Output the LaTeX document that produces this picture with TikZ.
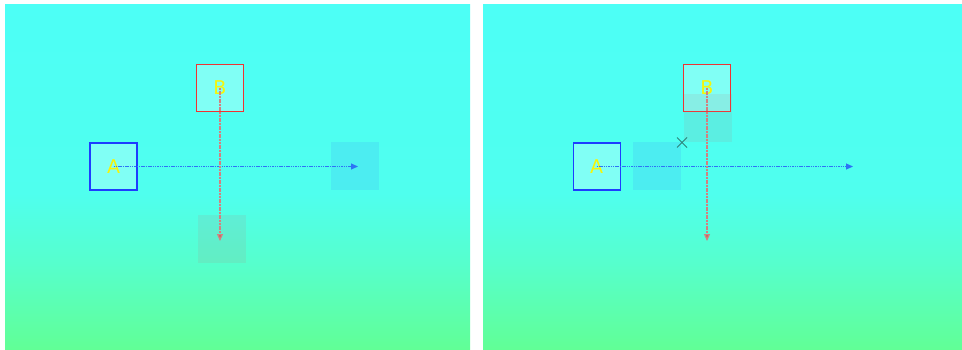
\documentclass[tikz,border=0pt]{standalone}
\usepackage{fontspec}
\setmainfont{DejaVu Sans}
\usetikzlibrary{arrows.meta}
\definecolor{bgtop}{RGB}{77,255,246}
\definecolor{bgmid}{RGB}{79,255,238}
\definecolor{bgq}{RGB}{86,255,205}
\definecolor{bgbot}{RGB}{97,255,150}
\definecolor{boxblue}{RGB}{30,60,255}
\definecolor{boxred}{RGB}{240,50,50}
\definecolor{boxfill}{RGB}{128,255,245}
\definecolor{labyellow}{RGB}{245,245,10}
\definecolor{arrblue}{RGB}{45,115,245}
\definecolor{arrred}{RGB}{212,128,128}
\definecolor{arrredtip}{RGB}{190,110,95}
\definecolor{ghostblue}{RGB}{60,120,255}
\definecolor{ghostred}{RGB}{190,120,120}
\definecolor{crossc}{RGB}{45,130,120}
\pgfdeclareverticalshading{bgshade}{100bp}{color(0bp)=(bgbot); color(25bp)=(bgbot);
  color(37.5bp)=(bgq); color(47.5bp)=(bgmid); color(75bp)=(bgtop); color(100bp)=(bgtop)}
\tikzset{
  panel/.style={shading=bgshade},
  box/.style={draw, line width=1.2pt, fill=boxfill, minimum size=47pt, inner sep=0pt,
    text=labyellow, font=\fontsize{19}{19}\selectfont},
  boxa/.style={box, draw=boxblue},
  boxb/.style={box, draw=boxred},
  ghosta/.style={fill=ghostblue, fill opacity=0.13, minimum size=48pt, inner sep=0pt},
  ghostb/.style={fill=ghostred, fill opacity=0.12, minimum size=48pt, inner sep=0pt},
  bluearr/.style={draw=arrblue, line width=1pt, dash pattern=on 1.5pt off 0.8pt,
    -{Triangle[length=7pt,width=6pt,fill=arrblue]}},
  redarr/.style={draw=arrred, line width=1.2pt, dash pattern=on 2pt off 0.7pt,
    -{Triangle[length=7pt,width=6pt,fill=arrredtip]}},
  crossmark/.style={draw=crossc, line width=1pt}
}
\begin{document}
\begin{tikzpicture}[x=1pt,y=-1pt]
\useasboundingbox (0,0) rectangle (962,349);
\fill[white] (0,0) rectangle (962,349);
% panels
\shade[panel] (5,4) rectangle (470,349);
\shade[panel] (483,4) rectangle (962,349);
% left panel
\node[boxa] (A1) at (113.5,166.5) {A};
\node[boxb] (B1) at (220,87.8) {B};
\node[ghosta] (G1) at (355,166) {};
\node[ghostb] (G2) at (222,238.5) {};
\coordinate (E1) at (358,166.5);
\coordinate (F1) at (220,241);
\draw[bluearr] (A1.center) -- (E1);
\draw[redarr] (B1.center) -- (F1);
% right panel
\node[boxa] (A2) at (596.7,166.5) {A};
\node[boxb] (B2) at (707,87.8) {B};
\node[ghosta] (G3) at (656.5,166) {};
\node[ghostb] (G4) at (707.5,117.5) {};
\coordinate (C) at (682,142.5);
\draw[crossmark] ([shift={(-5,-5)}]C) -- ([shift={(5,5)}]C);
\draw[crossmark] ([shift={(-5,5)}]C) -- ([shift={(5,-5)}]C);
\coordinate (E2) at (853,166.5);
\coordinate (F2) at (707,241);
\draw[bluearr] (A2.center) -- (E2);
\draw[redarr] (B2.center) -- (F2);
\end{tikzpicture}
\end{document}
